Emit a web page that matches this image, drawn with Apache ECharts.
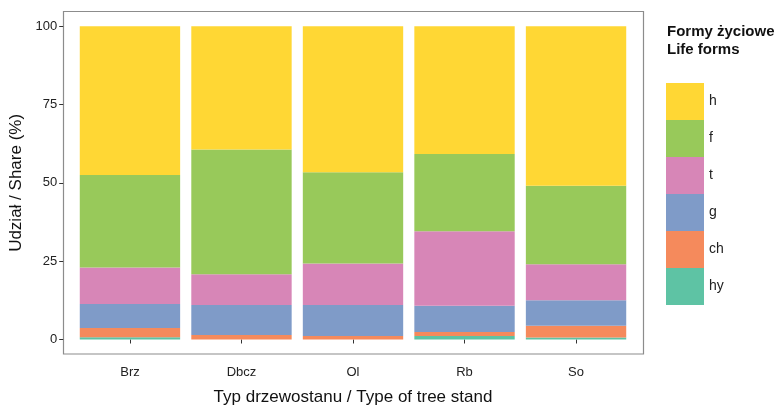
<!DOCTYPE html>
<html>
<head>
<meta charset="utf-8">
<script src="https://cdn.jsdelivr.net/npm/echarts@6/dist/echarts.min.js"></script>
<style>
  html, body { margin: 0; padding: 0; background: #fff; }
  #chart { width: 780px; height: 405px; }
</style>
</head>
<body>
<div id="chart"></div>
<script>
// Tree stand types on the x axis
const categories = ['Brz', 'Dbcz', 'Ol', 'Rb', 'So'];
// Share (%) of each life form per stand type, listed bottom-to-top of the stack
const hy = [0.7, 0.0, 0.0, 1.1, 0.6];
const ch = [3.0, 1.4, 1.1, 1.3, 3.8];
const g  = [7.6, 9.6, 9.9, 8.4, 8.1];
const t  = [11.7, 9.8, 13.3, 23.8, 11.5];
const f  = [29.5, 39.9, 29.1, 24.6, 25.1];
const h  = [47.5, 39.3, 46.6, 40.8, 50.9];
const yTicks = [0, 25, 50, 75, 100];

const stackOrder = [
  { name: 'hy', data: hy, color: '#5ec3a4' },
  { name: 'ch', data: ch, color: '#f58a5c' },
  { name: 'g',  data: g,  color: '#7f9bc8' },
  { name: 't',  data: t,  color: '#d786b7' },
  { name: 'f',  data: f,  color: '#98c95a' },
  { name: 'h',  data: h,  color: '#ffd734' }
];

const FONT = "'Liberation Sans', Arial, Helvetica, sans-serif";

const chart = echarts.init(document.getElementById('chart'), null, { renderer: 'canvas' });

chart.setOption({
  animation: false,
  backgroundColor: '#ffffff',
  textStyle: { fontFamily: FONT },
  title: {
    text: 'Formy życiowe\nLife forms',
    left: 667,
    top: 23,
    padding: 0,
    textStyle: { fontFamily: FONT, fontSize: 15, fontWeight: 'bold', color: '#111', lineHeight: 18 }
  },
  legend: {
    orient: 'vertical',
    left: 666,
    top: 83,
    padding: 0,
    itemWidth: 38,
    itemHeight: 37,
    itemGap: 0,
    icon: 'rect',
    selectedMode: false,
    data: ['h', 'f', 't', 'g', 'ch', 'hy'],
    textStyle: { fontFamily: FONT, fontSize: 14, color: '#222' }
  },
  // panel frame
  graphic: [{
    type: 'rect',
    z: 0,
    shape: { x: 63.5, y: 11.5, width: 580, height: 342.5 },
    style: { fill: null, stroke: '#8c8c8c', lineWidth: 1.2 }
  }],
  grid: {
    left: 74.2,
    right: 148.2,
    top: 26.3,
    bottom: 65.5,
    containLabel: false,
    outerBoundsMode: 'none'
  },
  xAxis: {
    type: 'category',
    data: categories,
    offset: 14.5,
    axisLine: { show: false },
    axisTick: { show: true, alignWithLabel: true, length: 4, lineStyle: { color: '#333' } },
    axisLabel: { fontFamily: FONT, fontSize: 13, color: '#222', margin: 12 },
    name: 'Typ drzewostanu / Type of tree stand',
    nameLocation: 'middle',
    nameGap: 35,
    nameTextStyle: { fontFamily: FONT, fontSize: 17, color: '#111' }
  },
  yAxis: {
    type: 'value',
    min: 0,
    max: 100,
    interval: 25,
    offset: 11,
    axisLine: { show: false },
    axisTick: { show: true, length: 4, lineStyle: { color: '#333' } },
    axisLabel: { fontFamily: FONT, fontSize: 13, color: '#222', margin: 6 },
    splitLine: { show: false },
    name: 'Udział / Share (%)',
    nameLocation: 'middle',
    nameGap: 30,
    nameTextStyle: { fontFamily: FONT, fontSize: 17, color: '#111' }
  },
  series: stackOrder.map(s => ({
    name: s.name,
    type: 'bar',
    stack: 'share',
    data: s.data,
    barWidth: '90%',
    itemStyle: { color: s.color },
    emphasis: { disabled: true }
  }))
});
</script>
</body>
</html>
